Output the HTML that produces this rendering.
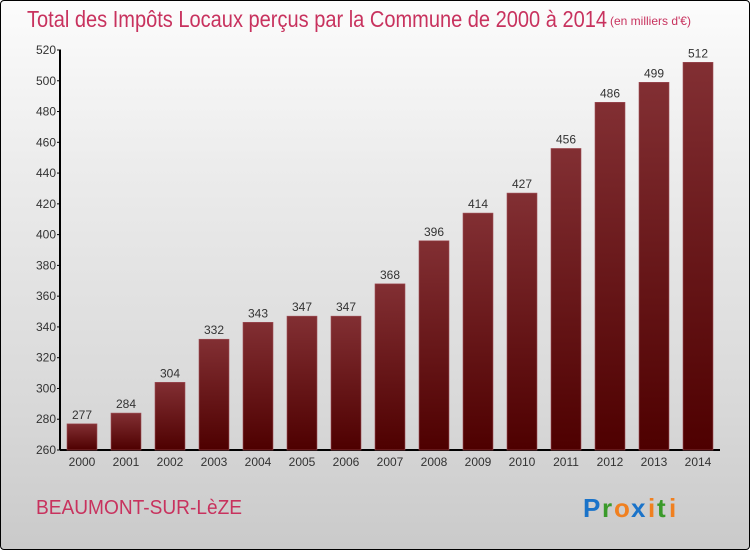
<!DOCTYPE html>
<html><head><meta charset="utf-8"><style>
html,body{margin:0;padding:0}
body{width:750px;height:550px;overflow:hidden;font-family:"Liberation Sans",sans-serif}
#frame{position:absolute;left:0;top:0;width:748px;height:548px;border:1px solid #000;border-radius:4px;background:linear-gradient(#fcfcfc,#ececec 30%,#d8d8d8 75%,#cacaca)}
</style></head><body>
<div id="frame"></div>
<svg id="chart" width="750" height="550" style="position:absolute;left:0;top:0">
<defs>
<linearGradient id="bg" x1="0" y1="0" x2="0" y2="1">
<stop offset="0" stop-color="#822f33"/><stop offset="1" stop-color="#4e0000"/>
</linearGradient>
</defs>
<text x="27" y="27" font-size="23" fill="#c8325e" style="font-weight:300" textLength="580" lengthAdjust="spacingAndGlyphs">Total des Impôts Locaux perçus par la Commune de 2000 à 2014</text>
<text x="610" y="25" font-size="12" fill="#c8325e">(en milliers d'€)</text>
<g id="plot"></g>
<text x="36" y="514" font-size="20" fill="#c8325e" textLength="206" lengthAdjust="spacingAndGlyphs">BEAUMONT-SUR-LèZE</text>
<g font-size="26" font-weight="bold" font-family="'Liberation Sans',sans-serif">
<text x="583" y="517" fill="#1a73c9">P</text><text x="602" y="517" fill="#3a9a2a">r</text><text x="614" y="517" fill="#f08020">o</text><text x="631" y="517" fill="#1a73c9">x</text><text x="648" y="517" fill="#f08020">i</text><text x="657" y="517" fill="#3a9a2a">t</text><text x="669" y="517" fill="#f08020">i</text>
</g>
</svg>
<script>
const categories=["2000","2001","2002","2003","2004","2005","2006","2007","2008","2009","2010","2011","2012","2013","2014"];
const values=[277,284,304,332,343,347,347,368,396,414,427,456,486,499,512];
const yTicks=[260,280,300,320,340,360,380,400,420,440,460,480,500,520];
const NS="http://www.w3.org/2000/svg";
const g=document.getElementById('plot');
const y0=450,y1=50,vmin=260,vmax=520;
function y(v){return y0-(v-vmin)/(vmax-vmin)*(y0-y1);}
function x(i){return 82+i*44;}
function mk(t,a,p){const e=document.createElementNS(NS,t);for(const k in a)e.setAttribute(k,a[k]);(p||g).appendChild(e);return e;}
const ax=mk('line',{x1:60,y1:y1,x2:60,y2:y0,stroke:'#000','stroke-width':2});


const bx=mk('line',{x1:60,y1:y0,x2:720,y2:y0,stroke:'#000','stroke-width':2});


yTicks.forEach(v=>{
  const tk=mk('line',{x1:57,x2:61,y1:y(v),y2:y(v),stroke:'#000','stroke-width':1});
  
  
  const t=mk('text',{x:56,y:y(v)+4,'text-anchor':'end','font-size':12,fill:'#333'});
  t.textContent=v;
  
  
});
categories.forEach((c,i)=>{
  const v=values[i];
  const r=mk('rect',{x:x(i)-15,y:y(v),width:30,height:y0-y(v),fill:'url(#bg)',stroke:'#a05058','stroke-width':0.6});
  
  
  const l=mk('text',{x:x(i),y:y(v)-5,'text-anchor':'middle','font-size':12,fill:'#333'});
  l.textContent=v;
  
  
  const xl=mk('text',{x:x(i),y:466,'text-anchor':'middle','font-size':12,fill:'#333'});
  xl.textContent=c;
  
  
});
</script>
</body></html>
